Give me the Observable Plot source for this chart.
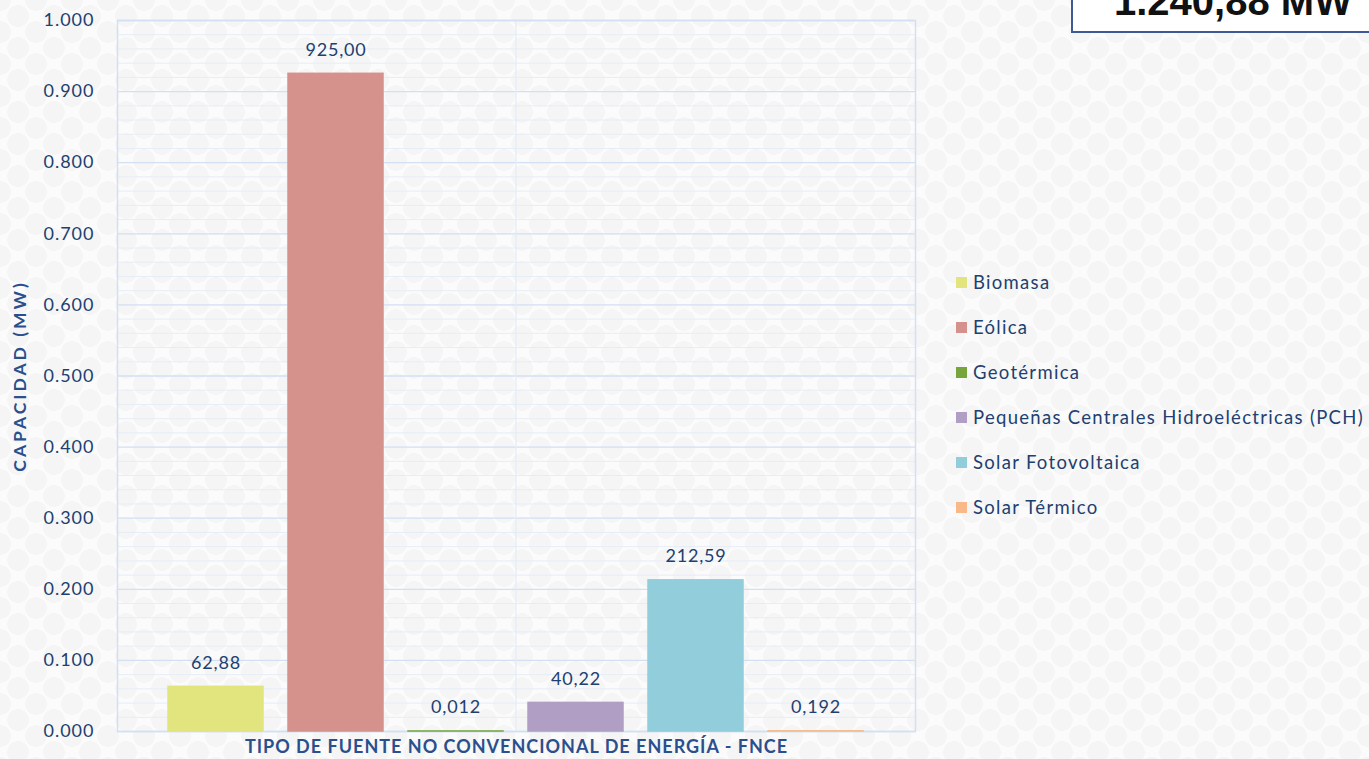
<!DOCTYPE html>
<html>
<head>
<meta charset="utf-8">
<script src="https://cdn.jsdelivr.net/npm/d3@7"></script>
<script src="https://cdn.jsdelivr.net/npm/@observablehq/plot@0.6"></script>
<style>
  html, body { margin: 0; padding: 0; }
  body {
    width: 1369px; height: 759px; overflow: hidden;
    background-color: #fbfbfb;
    background-image:
      radial-gradient(circle, #f5f5f5 44%, transparent 46%),
      radial-gradient(circle, #f5f5f5 44%, transparent 46%);
    background-size: 36px 32px, 36px 32px;
    background-position: 0 0, 18px 16px;
    font-family: Lato, "Open Sans", sans-serif;
  }
  #wrap { position: relative; width: 1369px; height: 759px; }
  #chart { position: absolute; left: 0; top: 0; }
  #legend { position: absolute; left: 956px; top: 270px; }
  .item { position: absolute; left: 0; height: 24px; display: flex; align-items: center; white-space: nowrap; color: #213f70; font-size: 18.5px; letter-spacing: 1.3px; }
  .sw { width: 11px; height: 11px; margin-right: 6px; }
  #total {
    position: absolute; left: 1071px; top: -40px; width: 340px; height: 73px;
    border: 2px solid #3b5a96; background: #fff;
    font-family: "Liberation Sans", Arial, sans-serif; font-weight: bold; font-size: 40px;
    color: #111; box-sizing: border-box;
  }
  #total span { position: absolute; left: 41px; top: 19px; line-height: 40px; white-space: nowrap; }
</style>
</head>
<body>
<div id="wrap">
  <div id="chart"></div>
  <div id="legend"></div>
  <div id="total"><span id="totalText"></span></div>
</div>
<script>
// ---- Data ----
const categories = ["Biomasa", "Eólica", "Geotérmica", "Pequeñas Centrales Hidroeléctricas (PCH)", "Solar Fotovoltaica", "Solar Térmico"];
const capacityMW = [62.88, 925.00, 0.012, 40.22, 212.59, 0.192];
const valueLabels = ["62,88", "925,00", "0,012", "40,22", "212,59", "0,192"];
const colors = ["#e2e47e", "#d5928c", "#76a53c", "#b19ec4", "#92cddb", "#f8b888"];
const yTicks = [0, 0.1, 0.2, 0.3, 0.4, 0.5, 0.6, 0.7, 0.8, 0.9, 1.0];
const yMinorTicks = [0.02, 0.04, 0.06, 0.08, 0.12, 0.14, 0.16, 0.18, 0.22, 0.24, 0.26, 0.28, 0.32, 0.34, 0.36, 0.38, 0.42, 0.44, 0.46, 0.48, 0.52, 0.54, 0.56, 0.58, 0.62, 0.64, 0.66, 0.68, 0.72, 0.74, 0.76, 0.78, 0.82, 0.84, 0.86, 0.88, 0.92, 0.94, 0.96, 0.98];
const yTitle = "CAPACIDAD (MW)";
const xTitle = "TIPO DE FUENTE NO CONVENCIONAL DE ENERGÍA - FNCE";
const totalLabel = "1.240,88 MW";

const data = categories.map((c, i) => ({cat: c, v: capacityMW[i] / 1000, label: valueLabels[i]}));

const textColor = "#213f70";
const titleColor = "#2a4f8c";
const chart = Plot.plot({
  width: 1369,
  height: 759,
  marginTop: 20,
  marginBottom: 28,
  marginLeft: 117,
  marginRight: 454,
  style: {background: "transparent", fontFamily: "Lato, 'Open Sans', sans-serif", color: textColor},
  x: {domain: categories, paddingInner: 0.205, paddingOuter: 0.408, axis: null},
  y: {domain: [0, 1], axis: null},
  color: {domain: categories, range: colors},
  marks: [
    Plot.ruleY(yMinorTicks, {stroke: "#e6edf7", strokeWidth: 1}),
    Plot.ruleY(yTicks, {stroke: "#d2e0f1", strokeWidth: 1.3}),
    Plot.ruleX([categories[3]], {dx: -60, stroke: "#e4ecf6", strokeWidth: 1.3}),
    Plot.frame({stroke: "#d2e0f1", strokeWidth: 1.5}),
    Plot.rectY(data, {x: "cat", y: "v", fill: "cat", stroke: "cat", strokeWidth: 1.5}),
    Plot.text(data, {x: "cat", y: "v", text: "label", dy: -24, fill: textColor, fontSize: 18, style: "letter-spacing:0.8px"}),
    Plot.axisY(yTicks, {tickFormat: d3.format(".3f"), tickSize: 0, tickPadding: 23, fontSize: 18, fill: textColor, label: null}),
    Plot.text([yTitle], {frameAnchor: "left", textAnchor: "middle", rotate: -90, dx: -97, fontSize: 17.5, fontWeight: "bold", fill: titleColor}),
    Plot.text([xTitle], {frameAnchor: "bottom", dy: 21, fontSize: 18, fontWeight: "bold", fill: titleColor})
  ]
});
document.getElementById("chart").appendChild(chart);

// letter spacing to match the reference's wide lettering
d3.select(chart).selectAll("g[aria-label='y-axis tick label'] text").style("letter-spacing", "1px");
d3.select(chart).selectAll("g[aria-label='text'] text").each(function() {
  const t = this.textContent;
  if (t === yTitle) d3.select(this).style("letter-spacing", "3px");
  else if (t === xTitle) d3.select(this).style("letter-spacing", "1px");
  else d3.select(this).style("letter-spacing", "0.8px");
});

const legend = document.getElementById("legend");
categories.forEach((c, i) => {
  const item = document.createElement("div");
  item.className = "item";
  item.style.top = (i * 45) + "px";
  const sw = document.createElement("div");
  sw.className = "sw";
  sw.style.background = colors[i];
  const t = document.createElement("span");
  t.textContent = c;
  item.appendChild(sw);
  item.appendChild(t);
  legend.appendChild(item);
});
document.getElementById("totalText").textContent = totalLabel;
</script>
</body>
</html>
